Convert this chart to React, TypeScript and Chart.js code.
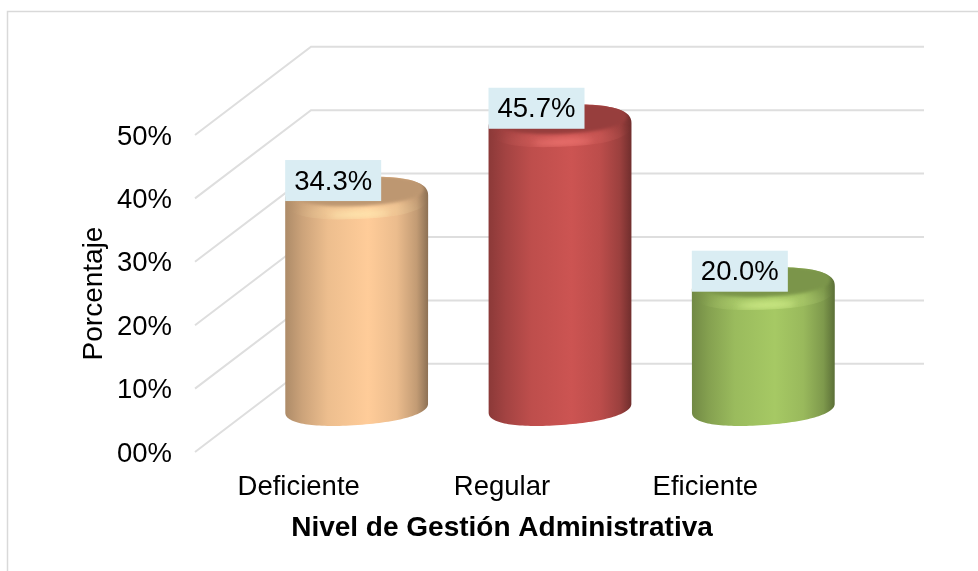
import React, { useEffect, useRef } from "react";
import { Chart, registerables } from "chart.js";

Chart.register(...registerables);

const categories = ["Deficiente", "Regular", "Eficiente"];
const percentages = [34.3, 45.7, 20.0];
const barColors = ["#FFCC99", "#CC5452", "#A6C964"];
const highlightColors = ["#FFEDB5", "#F47A76", "#D8F490"];
const yTicks = [0, 10, 20, 30, 40, 50];
const axisTitleY = "Porcentaje";
const axisTitleX = "Nivel de Gestión Administrativa";
const FONT = "'Liberation Sans', Arial, sans-serif";
const GRID = "#DEDEDE";

function shade(hex: string, k: number) {
  const n = parseInt(hex.slice(1), 16);
  const r = Math.round(((n >> 16) & 255) * k);
  const g = Math.round(((n >> 8) & 255) * k);
  const b = Math.round((n & 255) * k);
  return `rgb(${r},${g},${b})`;
}

const DX = 58; // half depth of the pseudo 3D floor
const DY_BASE = 44;
const DY_TOP = 37.5;
const TILT_BASE = (-4 * Math.PI) / 180;
const TILT_TOP = (-2.2 * Math.PI) / 180;

// Traces part of a rounded (super-elliptic) outline, tilted like the reference's perspective.
function outline(ctx: any, cx: number, cy: number, rx: number, ry: number, from: number, to: number, power: number, first: boolean, tilt: number) {
  const steps = 72;
  const cosT = Math.cos(tilt);
  const sinT = Math.sin(tilt);
  for (let s = 0; s <= steps; s++) {
    const t = from + ((to - from) * s) / steps;
    const c = Math.cos(t);
    const n = Math.sin(t);
    const ex = rx * Math.sign(c) * Math.pow(Math.abs(c), 2 / power);
    const ey = ry * Math.sign(n) * Math.pow(Math.abs(n), 2 / power);
    const px = cx + ex * cosT - ey * sinT;
    const py = cy + ex * sinT + ey * cosT;
    if (first && s === 0) ctx.moveTo(px, py);
    else ctx.lineTo(px, py);
  }
}

const cylinderPlugin = {
  id: "cylinder",
  beforeDraw(chart: any) {
    const { ctx, width, height } = chart;
    ctx.save();
    ctx.strokeStyle = "#D9D9D9";
    ctx.lineWidth = 1.5;
    ctx.beginPath();
    ctx.moveTo(7.5, height);
    ctx.lineTo(7.5, 11.5);
    ctx.lineTo(width, 11.5);
    ctx.stroke();
    ctx.restore();
  },
  beforeDatasetsDraw(chart: any) {
    const { ctx, scales } = chart;
    const left = chart.chartArea.left - 2;
    ctx.save();
    ctx.strokeStyle = GRID;
    ctx.lineWidth = 2;
    for (const v of yTicks) {
      const y = scales.y.getPixelForValue(v);
      ctx.beginPath();
      ctx.moveTo(left, y);
      ctx.lineTo(left + 116, y - 88.2);
      ctx.lineTo(chart.chartArea.right + 117, y - 88.2);
      ctx.stroke();
    }
    ctx.restore();
  },
  afterDatasetsDraw(chart: any) {
    const { ctx, scales } = chart;
    const bars = chart.getDatasetMeta(0).data;
    const base = scales.y.getPixelForValue(0);
    bars.forEach((bar: any, i: number) => {
      const color = barColors[i];
      const cx = bar.x + DX;
      const rx = bar.width / 2;
      const topY = bar.y - DY_TOP;
      const botY = base - DY_BASE;
      const ryTop = 21;
      const ryBot = 17;
      const grad = ctx.createLinearGradient(cx - rx, 0, cx + rx, 0);
      grad.addColorStop(0, shade(color, 0.68));
      grad.addColorStop(0.12, shade(color, 0.8));
      grad.addColorStop(0.3, shade(color, 0.93));
      grad.addColorStop(0.58, shade(color, 1));
      grad.addColorStop(0.78, shade(color, 0.92));
      grad.addColorStop(0.92, shade(color, 0.76));
      grad.addColorStop(1, shade(color, 0.55));

      ctx.save();
      ctx.beginPath();
      outline(ctx, cx, botY, rx, ryBot, Math.PI, 0, 2.25, true, TILT_BASE);
      outline(ctx, cx, topY + 1, rx, ryTop, 0, -Math.PI, 2.5, false, TILT_TOP);
      ctx.closePath();
      ctx.fillStyle = grad;
      ctx.fill();

      // top face with bevel, clipped to the rounded rim
      ctx.beginPath();
      outline(ctx, cx, topY + 1, rx, ryTop, 0, Math.PI * 2, 2.5, true, TILT_TOP);
      ctx.closePath();
      ctx.save();
      ctx.clip();
      // soft glow across the front of the rim
      ctx.filter = "blur(6px)";
      ctx.globalAlpha = 0.35;
      ctx.fillStyle = highlightColors[i];
      ctx.beginPath();
      ctx.ellipse(cx + 4, topY + ryTop - 6, 62, 5, TILT_TOP, 0, Math.PI * 2);
      ctx.fill();
      ctx.globalAlpha = 1;
      // highlight
      ctx.filter = "blur(3px)";
      ctx.fillStyle = highlightColors[i];
      ctx.beginPath();
      ctx.ellipse(cx + 3, topY + ryTop - 3.5, 30, 2.2, TILT_TOP, 0, Math.PI * 2);
      ctx.fill();
      // inner dark face
      ctx.filter = "blur(1.5px)";
      ctx.fillStyle = shade(color, 0.74);
      ctx.beginPath();
      outline(ctx, cx + 1, topY - 6, rx - 6, ryTop - 6, 0, Math.PI * 2, 2.2, true, TILT_TOP);
      ctx.closePath();
      ctx.fill();
      ctx.filter = "none";
      ctx.restore();
      ctx.restore();

      // value label
      const lx = cx - 23.5;
      const ly = topY - 16.5;
      ctx.save();
      ctx.fillStyle = "#DAEDF3";
      ctx.fillRect(lx - 48, ly - 20.5, 96, 41);
      ctx.fillStyle = "#000";
      ctx.font = `27.5px ${FONT}`;
      ctx.textAlign = "center";
      ctx.textBaseline = "middle";
      ctx.fillText(`${percentages[i].toFixed(1)}%`, lx, ly + 1.5);
      ctx.restore();
    });
  },
};

export default function App() {
  const ref = useRef<HTMLCanvasElement>(null);
  useEffect(() => {
    const chart = new Chart(ref.current!, {
      type: "bar",
      data: {
        labels: categories,
        datasets: [
          {
            data: percentages,
            backgroundColor: "rgba(0,0,0,0)",
            categoryPercentage: 1,
            barPercentage: 0.7036,
          },
        ],
      },
      plugins: [cylinderPlugin],
      options: {
        responsive: false,
        animation: false,
        layout: { padding: { top: 135, right: 171, bottom: 0, left: 0 } },
        plugins: { legend: { display: false }, tooltip: { enabled: false } },
        scales: {
          x: {
            grid: { display: false, drawTicks: false },
            border: { display: false },
            ticks: {
              color: "#000",
              font: { family: FONT, size: 27.5 },
              padding: 19,
              maxRotation: 0,
            },
            title: {
              display: true,
              text: axisTitleX,
              color: "#000",
              font: { family: FONT, size: 28, weight: "bold" },
              padding: { top: 0, bottom: 26 },
            },
            afterFit(scale: any) {
              scale.height = 119;
            },
          },
          y: {
            min: 0,
            max: 50,
            grid: { display: false, drawTicks: false },
            border: { display: false },
            afterBuildTicks(scale: any) {
              scale.ticks = yTicks.map((value) => ({ value }));
            },
            ticks: {
              color: "#000",
              font: { family: FONT, size: 27.5 },
              padding: 25,
              labelOffset: 2,
              callback: (v: any) => `${String(v).padStart(2, "0")}%`,
            },
            title: {
              display: true,
              text: axisTitleY,
              color: "#000",
              font: { family: FONT, size: 28 },
              padding: { top: 77, bottom: 0 },
            },
            afterFit(scale: any) {
              scale.width = 197;
            },
          },
        },
      },
    } as any);
    return () => chart.destroy();
  }, []);
  return (
    <div style={{ position: "fixed", left: 0, top: 0, width: 978, height: 571, background: "#fff" }}>
      <canvas ref={ref} width={978} height={571} style={{ display: "block" }} />
    </div>
  );
}
